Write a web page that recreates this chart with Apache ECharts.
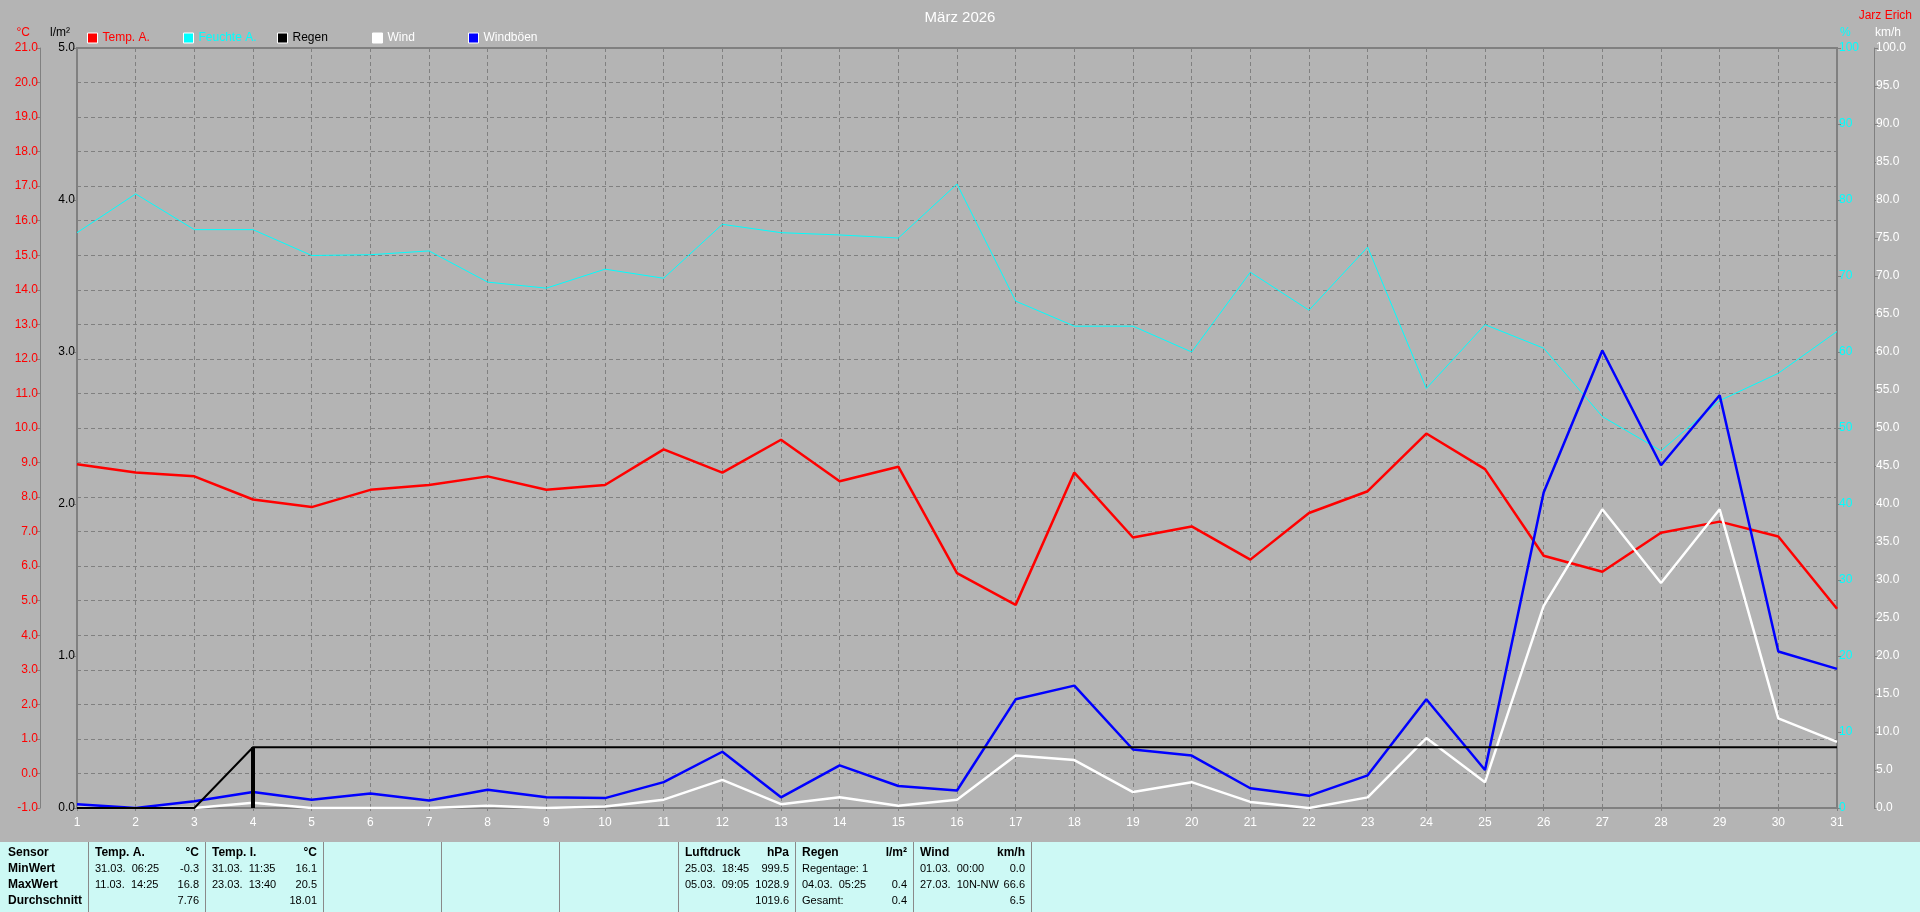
<!DOCTYPE html>
<html><head><meta charset="utf-8">
<script src="https://cdn.jsdelivr.net/npm/echarts@6/dist/echarts.min.js"></script>
<style>html,body{margin:0;padding:0;background:#b4b4b4;overflow:hidden}#c{width:1920px;height:912px}</style>
</head><body><div id="c"></div>
<script>
// ---- data ----
const days = ['1','2','3','4','5','6','7','8','9','10','11','12','13','14','15','16','17','18','19','20','21','22','23','24','25','26','27','28','29','30','31'];
const tempA = [8.95, 8.71, 8.6, 7.93, 7.71, 8.21, 8.35, 8.6, 8.21, 8.35, 9.38, 8.71, 9.66, 8.46, 8.88, 5.8, 4.88, 8.71, 6.83, 7.15, 6.19, 7.54, 8.17, 9.84, 8.81, 6.3, 5.84, 6.97, 7.29, 6.86, 4.77];
const feuchteA = [75.7, 80.8, 76.1, 76.1, 72.7, 72.8, 73.3, 69.2, 68.4, 70.9, 69.7, 76.8, 75.7, 75.4, 75.0, 82.1, 66.7, 63.4, 63.4, 60.0, 70.5, 65.5, 73.8, 55.2, 63.6, 60.5, 51.5, 47.0, 53.6, 57.2, 62.7];
const regenTag = [0, 0, 0, 0.4, 0, 0, 0, 0, 0, 0, 0, 0, 0, 0, 0, 0, 0, 0, 0, 0, 0, 0, 0, 0, 0, 0, 0, 0, 0, 0, 0];
const regenSumme = [0, 0, 0, 0.4, 0.4, 0.4, 0.4, 0.4, 0.4, 0.4, 0.4, 0.4, 0.4, 0.4, 0.4, 0.4, 0.4, 0.4, 0.4, 0.4, 0.4, 0.4, 0.4, 0.4, 0.4, 0.4, 0.4, 0.4, 0.4, 0.4, 0.4];
const wind = [0, 0, 0, 0.7, 0, 0, 0, 0.3, 0, 0.2, 1.1, 3.7, 0.5, 1.4, 0.3, 1.1, 6.9, 6.3, 2.1, 3.4, 0.8, 0, 1.4, 9.2, 3.4, 26.6, 39.3, 29.6, 39.3, 11.8, 8.7];
const windboeen = [0.5, 0, 0.9, 2.1, 1.1, 1.9, 1.0, 2.4, 1.4, 1.3, 3.4, 7.4, 1.4, 5.6, 2.9, 2.3, 14.3, 16.1, 7.7, 6.9, 2.6, 1.6, 4.3, 14.3, 5.0, 41.5, 60.2, 45.1, 54.3, 20.6, 18.3];

const legendNames = ['Temp. A.', 'Feuchte A.', 'Regen', 'Wind', 'Windböen'];
const legendTextColors = ['#ff0000', '#00ffff', '#000000', '#ffffff', '#ffffff'];

// table (summary below the chart)
const tableColumns = [
  {head: 'Temp. A.', unit: '°C', rows: [['31.03.  06:25', '-0.3'], ['11.03.  14:25', '16.8'], ['', '7.76']]},
  {head: 'Temp. I.', unit: '°C', rows: [['31.03.  11:35', '16.1'], ['23.03.  13:40', '20.5'], ['', '18.01']]},
  null, null, null,
  {head: 'Luftdruck', unit: 'hPa', rows: [['25.03.  18:45', '999.5'], ['05.03.  09:05', '1028.9'], ['', '1019.6']]},
  {head: 'Regen', unit: 'l/m²', rows: [['Regentage: 1', ''], ['04.03.  05:25', '0.4'], ['Gesamt:', '0.4']]},
  {head: 'Wind', unit: 'km/h', rows: [['01.03.  00:00', '0.0'], ['27.03.  10N-NW', '66.6'], ['', '6.5']]}
];
const tableRowLabels = ['Sensor', 'MinWert', 'MaxWert', 'Durchschnitt'];

// ---- style ----
const FONT = '"Liberation Sans",Arial,sans-serif';
const FS = 12;
const TFS = 11;
const GRAY = '#808080';
const TABLE_BG = '#cdf9f5';
const dividers = [88, 205, 323, 441, 559, 678, 795, 913, 1031];
const tableTop = 842, rowY = [853, 869, 885, 901];
const legendLeft = [87, 183, 277, 372, 468];

const graphics = [];
graphics.push({type: 'rect', shape: {x: 0, y: tableTop, width: 1920, height: 912 - tableTop}, style: {fill: TABLE_BG}, silent: true});
dividers.forEach(x => graphics.push({type: 'line', shape: {x1: x + 0.5, y1: tableTop, x2: x + 0.5, y2: 912}, style: {stroke: '#8a8a8a', lineWidth: 1}, silent: true}));
function txt(s, x, y, align, bold) {
  graphics.push({type: 'text', x: x, y: y, silent: true,
    style: {text: s, fill: '#000', font: (bold ? 'bold ' + FS : TFS) + 'px ' + FONT, textAlign: align, textVerticalAlign: 'middle'}});
}
tableRowLabels.forEach((s, i) => txt(s, 8, rowY[i], 'left', true));
tableColumns.forEach((col, i) => {
  if (!col) return;
  const l = dividers[i] + 7, r = dividers[i + 1] - 6;
  txt(col.head, l, rowY[0], 'left', true);
  txt(col.unit, r, rowY[0], 'right', true);
  col.rows.forEach((row, j) => {
    if (row[0]) txt(row[0], l, rowY[j + 1], 'left', false);
    if (row[1]) txt(row[1], r, rowY[j + 1], 'right', false);
  });
});

const legends = legendNames.map((n, i) => ({
  top: 32, left: legendLeft[i], padding: 0, itemWidth: 10, itemHeight: 10, icon: 'rect',
  itemStyle: {borderColor: '#ffffff', borderWidth: 1},
  textStyle: {fontFamily: FONT, fontSize: FS, color: legendTextColors[i]},
  data: [n], selectedMode: false
}));

const chart = echarts.init(document.getElementById('c'), null, {renderer: 'canvas'});
const labelBase = {fontFamily: FONT, fontSize: FS};
const dashed = {show: true, lineStyle: {color: GRAY, type: [4, 3], width: 1}};

chart.setOption({
  animation: false,
  backgroundColor: '#b4b4b4',
  title: [
    {text: 'März 2026', left: 'center', top: 5, textStyle: {color: '#ffffff', fontSize: 15, fontWeight: 'normal', fontFamily: FONT}},
    {text: 'Jarz Erich', right: 3, top: 5, textStyle: {color: '#ff0000', fontSize: FS, fontWeight: 'normal', fontFamily: FONT}}
  ],
  legend: legends,
  grid: {left: 77, top: 48, width: 1760, height: 760, show: true, borderColor: GRAY, borderWidth: 2, backgroundColor: 'transparent'},
  graphic: graphics,
  xAxis: {
    type: 'category', data: days, boundaryGap: false,
    axisLine: {onZero: false, lineStyle: {color: GRAY, width: 2}},
    axisTick: {show: true, length: 3, lineStyle: {color: GRAY}},
    axisLabel: Object.assign({color: '#ffffff', margin: 9}, labelBase),
    splitLine: dashed
  },
  yAxis: [
    {type: 'value', position: 'left', offset: 37, min: -1, max: 21, interval: 1,
     name: '°C', nameLocation: 'end', nameGap: 9,
     nameTextStyle: Object.assign({color: '#ff0000', align: 'right', padding: [0, 10, 0, 0]}, labelBase),
     axisLine: {show: true, onZero: false, lineStyle: {color: GRAY, width: 1}},
     axisTick: {show: true, length: 4, lineStyle: {color: GRAY}},
     axisLabel: Object.assign({color: '#ff0000', margin: 2, formatter: v => v.toFixed(1)}, labelBase),
     splitLine: dashed},
    {type: 'value', position: 'left', offset: 0, min: 0, max: 5, interval: 1,
     name: 'l/m²', nameLocation: 'end', nameGap: 9,
     nameTextStyle: Object.assign({color: '#000000', align: 'right', padding: [0, 7, 0, 0]}, labelBase),
     axisLine: {show: true, onZero: false, lineStyle: {color: GRAY, width: 2}},
     axisTick: {show: true, length: 3, lineStyle: {color: GRAY}},
     axisLabel: Object.assign({color: '#000000', margin: 2, formatter: v => v.toFixed(1)}, labelBase),
     splitLine: {show: false}},
    {type: 'value', position: 'right', offset: 0, min: 0, max: 100, interval: 10,
     name: '%', nameLocation: 'end', nameGap: 9,
     nameTextStyle: Object.assign({color: '#00ffff', align: 'left', padding: [0, 0, 0, 3]}, labelBase),
     axisLine: {show: true, onZero: false, lineStyle: {color: GRAY, width: 2}},
     axisTick: {show: true, length: 4, lineStyle: {color: GRAY}},
     axisLabel: Object.assign({color: '#00ffff', margin: 2}, labelBase),
     splitLine: {show: false}},
    {type: 'value', position: 'right', offset: 37, min: 0, max: 100, interval: 5,
     name: 'km/h', nameLocation: 'end', nameGap: 9,
     nameTextStyle: Object.assign({color: '#ffffff', align: 'left', padding: [0, 0, 0, 1]}, labelBase),
     axisLine: {show: true, onZero: false, lineStyle: {color: GRAY, width: 1}},
     axisTick: {show: true, length: 4, lineStyle: {color: GRAY}},
     axisLabel: Object.assign({color: '#ffffff', margin: 2, formatter: v => v.toFixed(1)}, labelBase),
     splitLine: {show: false}}
  ],
  series: [
    {name: 'Temp. A.', type: 'line', yAxisIndex: 0, data: tempA, symbol: 'none',
     itemStyle: {color: '#ff0000'}, lineStyle: {color: '#ff0000', width: 2.5}, z: 4},
    {name: 'Feuchte A.', type: 'line', yAxisIndex: 2, data: feuchteA, symbol: 'none',
     itemStyle: {color: '#00ffff'}, lineStyle: {color: '#00ffff', width: 1}, z: 3},
    {name: 'Regen', type: 'line', yAxisIndex: 1, data: regenSumme, symbol: 'none',
     itemStyle: {color: '#000000'}, lineStyle: {color: '#000000', width: 2}, z: 5},
    {name: 'Regen', type: 'bar', yAxisIndex: 1, data: regenTag, barWidth: 4,
     itemStyle: {color: '#000000'}, z: 6},
    {name: 'Wind', type: 'line', yAxisIndex: 3, data: wind, symbol: 'none',
     itemStyle: {color: '#ffffff'}, lineStyle: {color: '#ffffff', width: 2.5}, z: 4},
    {name: 'Windböen', type: 'line', yAxisIndex: 3, data: windboeen, symbol: 'none',
     itemStyle: {color: '#0000ff'}, lineStyle: {color: '#0000ff', width: 2.5}, z: 4}
  ]
});
</script>
</body></html>
